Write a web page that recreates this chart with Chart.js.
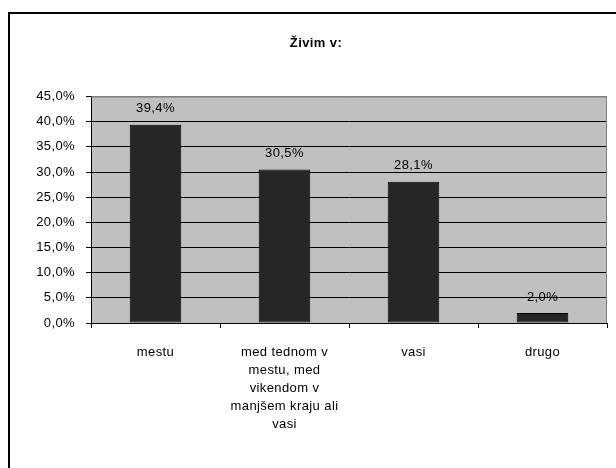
<!DOCTYPE html>
<html>
<head>
<meta charset="utf-8">
<script src="https://cdn.jsdelivr.net/npm/chart.js@4/dist/chart.umd.min.js"></script>
<style>
    html, body { margin: 0; padding: 0; background: #fff; overflow: hidden; }
    #wrap { position: relative; width: 616px; height: 468px; overflow: hidden; }
    #frame { position: absolute; left: 8px; top: 12px; width: 700px; height: 600px; border: 2px solid #000; pointer-events: none; }
    canvas { position: absolute; left: 0; top: 0; }
</style>
</head>
<body>
<div id="wrap">
    <canvas id="myChart" width="616" height="468"></canvas>
    <div id="frame"></div>
</div>
<script>
// Podatki
const categories = [
    ['mestu'],
    ['med tednom v', 'mestu, med', 'vikendom v', 'manjšem kraju ali', 'vasi'],
    ['vasi'],
    ['drugo']
];
const values = [39.4, 30.5, 28.1, 2.0];
const yTicks = [0, 5, 10, 15, 20, 25, 30, 35, 40, 45];

const fmt = v => v.toFixed(1).replace('.', ',') + '%';
const FONT = 'Arial, "Liberation Sans", sans-serif';
const LS = '0.4px';

// Razmik med črkami kot v Excelu
const spacing = {
    id: 'spacing',
    beforeUpdate(chart) { chart.ctx.letterSpacing = LS; },
    beforeLayout(chart) { chart.ctx.letterSpacing = LS; },
    beforeDraw(chart) { chart.ctx.letterSpacing = LS; }
};

// Sivo ozadje risalne površine
const plotBg = {
    id: 'plotBg',
    beforeDraw(chart) {
        const a = chart.chartArea, c = chart.ctx;
        c.save();
        c.fillStyle = '#c0c0c0';
        c.fillRect(a.left, a.top, a.right - a.left, a.bottom - a.top);
        c.restore();
    },
    beforeDatasetsDraw(chart) {
        const a = chart.chartArea, c = chart.ctx;
        c.save();
        c.strokeStyle = '#808080';
        c.lineWidth = 1;
        c.beginPath();
        c.moveTo(a.left, a.top + 0.5);
        c.lineTo(Math.round(a.right) - 0.5, a.top + 0.5);
        c.lineTo(Math.round(a.right) - 0.5, a.bottom);
        c.stroke();
        c.restore();
    }
};

// Oznake vrednosti nad stolpci
const barLabels = {
    id: 'barLabels',
    afterDatasetsDraw(chart) {
        const c = chart.ctx;
        c.save();
        c.font = '13px ' + FONT;
        c.fillStyle = '#000';
        c.textAlign = 'center';
        c.textBaseline = 'middle';
        chart.getDatasetMeta(0).data.forEach((bar, i) => {
            c.fillText(fmt(values[i]), bar.x, bar.y - 16);
        });
        c.restore();
    }
};

var ctx = document.getElementById('myChart').getContext('2d');
var chart = new Chart(ctx, {
    type: 'bar',
    data: {
        labels: categories,
        datasets: [{
            data: values,
            backgroundColor: '#262626',
            borderColor: '#000',
            borderWidth: 1,
            borderSkipped: false,
            barPercentage: 0.4,
            categoryPercentage: 1
        }]
    },
    options: {
        responsive: false,
        animation: false,
        layout: { padding: { left: 25, right: 9, top: 0, bottom: 0 } },
        plugins: {
            legend: { display: false },
            tooltip: { enabled: false },
            title: {
                display: true,
                text: 'Živim v:',
                color: '#000',
                font: { family: FONT, size: 13, weight: 'bold' },
                padding: { top: 36, bottom: 45 }
            }
        },
        scales: {
            x: {
                grid: {
                    offset: true,
                    drawOnChartArea: false,
                    drawTicks: true,
                    tickLength: 5,
                    color: '#000'
                },
                border: { color: '#000' },
                ticks: {
                    color: '#000',
                    padding: 15,
                    maxRotation: 0,
                    autoSkip: false,
                    font: { family: FONT, size: 13, lineHeight: '18px' }
                },
                afterFit(s) { s.height = 145; }
            },
            y: {
                min: 0,
                max: 45,
                afterBuildTicks(s) { s.ticks = yTicks.map(v => ({ value: v })); },
                grid: {
                    color: c => c.tick && c.tick.value === 45 ? '#808080' : '#000',
                    tickColor: '#000',
                    tickLength: 5
                },
                border: { color: '#000' },
                ticks: {
                    color: '#000',
                    padding: 11,
                    font: { family: FONT, size: 13 },
                    callback: v => fmt(v)
                },
                afterFit(s) { s.width = 66; }
            }
        }
    },
    plugins: [spacing, plotBg, barLabels]
});
</script>
</body>
</html>
